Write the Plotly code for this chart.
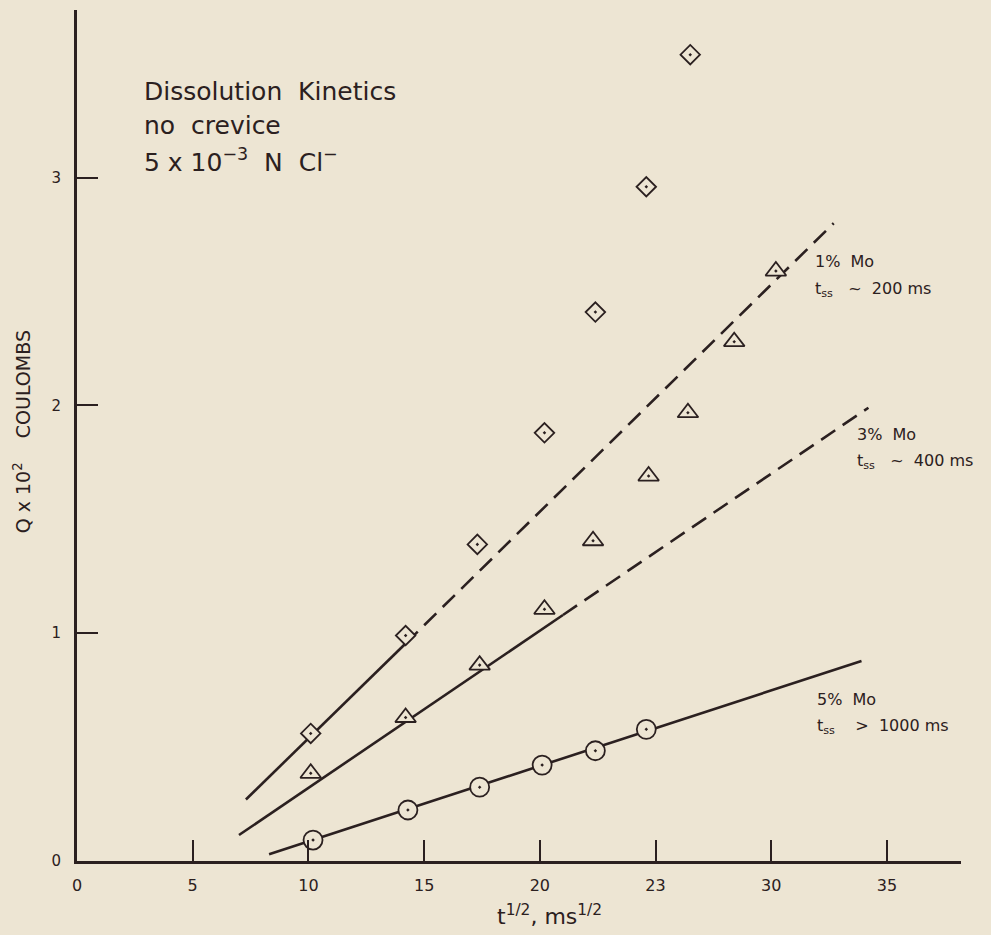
import plotly.graph_objects as go

# ---- data ----
x_1pct = [10.1, 14.2, 17.3, 20.2, 22.4, 24.6, 26.5]
q_1pct = [0.56, 0.99, 1.39, 1.88, 2.41, 2.96, 3.54]

x_3pct = [10.1, 14.2, 17.4, 20.2, 22.3, 24.7, 26.4, 28.4, 30.2]
q_3pct = [0.385, 0.63, 0.86, 1.105, 1.406, 1.69, 1.968, 2.28, 2.59]

x_5pct = [10.2, 14.3, 17.4, 20.1, 22.4, 24.6]
q_5pct = [0.092, 0.224, 0.324, 0.421, 0.484, 0.578]

# fitted lines (solid part, dashed extrapolation)
fit1_solid_x = [7.3, 14.2]
fit1_solid_y = [0.27, 0.955]
fit1_dash_x = [14.2, 32.7]
fit1_dash_y = [0.955, 2.80]

fit3_solid_x = [7.0, 21.0]
fit3_solid_y = [0.114, 1.08]
fit3_dash_x = [21.0, 34.2]
fit3_dash_y = [1.08, 1.99]

fit5_x = [8.3, 33.9]
fit5_y = [0.03, 0.878]

x_tickvals = [0, 5, 10, 15, 20, 25, 30, 35]
x_ticktext = ["0", "5", "10", "15", "20", "23", "30", "35"]
y_tickvals = [0, 1, 2, 3]
y_ticktext = ["0", "1", "2", "3"]

BG = "#ede5d3"
INK = "#2b2020"
FONT = "DejaVu Sans"

fig = go.Figure()

def line(x, y, dash="solid"):
    fig.add_trace(go.Scatter(x=x, y=y, mode="lines",
                             line=dict(color=INK, width=2.6, dash=dash),
                             hoverinfo="skip", showlegend=False))

line(fit1_solid_x, fit1_solid_y)
line(fit1_dash_x, fit1_dash_y, "17px,9px")
line(fit3_solid_x, fit3_solid_y)
line(fit3_dash_x, fit3_dash_y, "17px,9px")
line(fit5_x, fit5_y)

def pts(x, y, symbol, size):
    fig.add_trace(go.Scatter(x=x, y=y, mode="markers",
                             marker=dict(symbol=symbol, size=size, color=BG,
                                         line=dict(color=INK, width=1.8)),
                             showlegend=False))

pts(x_1pct, q_1pct, "diamond-dot", 15)
pts(x_3pct, q_3pct, "triangle-up-dot", 18)
pts(x_5pct, q_5pct, "circle-dot", 19)

ann = []
def txt(x, y, s, size=16, xanchor="left", ref="", **kw):
    ann.append(dict(x=x, y=y, xref=ref or "x", yref=ref or "y", text=s,
                    showarrow=False, xanchor=xanchor, yanchor="middle",
                    font=dict(family=FONT, size=size, color=INK), **kw))

txt(2.83, 3.38, "Dissolution  Kinetics", 25)
txt(2.83, 3.227, "no  crevice", 25)
txt(2.83, 3.075, "5 x 10<sup>−3</sup>  N  Cl<sup>−</sup>", 25)

txt(31.8, 2.63, "1%  Mo")
txt(31.8, 2.51, "t<sub>ss</sub>   ~  200 ms")
txt(33.6, 1.874, "3%  Mo")
txt(33.6, 1.755, "t<sub>ss</sub>   ~  400 ms")
txt(31.9, 0.707, "5%  Mo")
txt(31.9, 0.59, "t<sub>ss</sub>    >  1000 ms")

txt(0.535, -0.064, "t<sup>1/2</sup>, ms<sup>1/2</sup>", 22, xanchor="center", ref="paper")
txt(-0.062, 0.504, "Q x 10<sup>2</sup>    COULOMBS", 19, xanchor="center", ref="paper",
    textangle=-90)

fig.update_layout(
    width=991, height=935,
    margin=dict(l=77, r=30, t=10, b=74),
    paper_bgcolor=BG, plot_bgcolor=BG,
    annotations=ann,
    xaxis=dict(range=[0, 38.2], tickvals=x_tickvals, ticktext=x_ticktext,
               ticks="inside", ticklen=21, tickwidth=1.8, tickcolor=INK,
               showline=True, linewidth=3, linecolor=INK, showgrid=False,
               zeroline=False, ticklabelstandoff=8,
               tickfont=dict(family=FONT, size=16, color=INK)),
    yaxis=dict(range=[0, 3.736], tickvals=y_tickvals, ticktext=y_ticktext,
               ticks="inside", ticklen=21, tickwidth=1.8, tickcolor=INK,
               showline=True, linewidth=3, linecolor=INK, showgrid=False,
               zeroline=False, ticklabelstandoff=10,
               tickfont=dict(family=FONT, size=15, color=INK)),
)

fig.write_html("out.html", config={"displayModeBar": False},
               post_script="document.body.style.margin='0';"
                           "document.body.style.background='#ede5d3';")
